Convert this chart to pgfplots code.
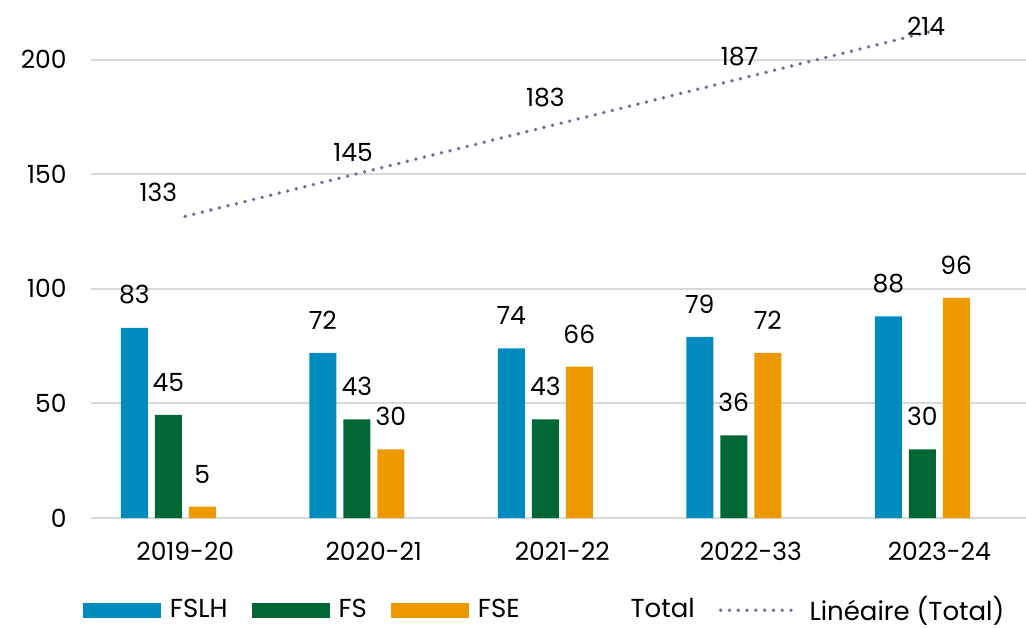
\documentclass[border=0pt]{standalone}
\usepackage{fontspec}
\setmainfont{Poppins}
\usepackage{pgfplots}
\pgfplotsset{compat=1.18}

\definecolor{cFSLH}{HTML}{008BBE}
\definecolor{cFS}{HTML}{006735}
\definecolor{cFSE}{HTML}{EC9A00}
\definecolor{cTrend}{HTML}{8064A2}
\definecolor{gridgray}{HTML}{D9D9D9}

\pgfplotsset{
  patchleg/.style={legend image code/.code={\fill[##1,draw=none] (0pt,-3.75pt) rectangle (39pt,3.75pt);}},
  lineleg/.style={legend image code/.code={\draw[##1] (0pt,0pt) -- (39pt,0pt);}},
  blankleg/.style={legend image code/.code={\path (0pt,-3.75pt) rectangle (39pt,3.75pt);}},
  barlabels/.style={nodes near coords,
    every node near coord/.append style={anchor=south, inner sep=0pt, yshift=11.5pt, xshift=#1, text=black}},
}

\begin{document}
\fontsize{12.5}{15}\selectfont
\begin{tikzpicture}
  \begin{axis}[
      scale only axis,
      width=467.5pt, height=259pt,
      xmin=-0.5, xmax=4.46,
      ymin=0, ymax=226,
      xtick={0,1,2,3,4},
      xticklabels={2019-20,2020-21,2021-22,2022-33,2023-24},
      ytick={0,50,100,150,200},
      ymajorgrids=true,
      grid style={draw=gridgray, line width=1pt},
      axis line style={draw=none},
      major tick length=0pt,
      /pgf/number format/assume math mode=true,
      xticklabel style={anchor=base, inner sep=0pt},
      xticklabel shift=21pt,
      yticklabel style={anchor=east, inner sep=0pt},
      yticklabel shift=12pt,
      clip=false,
      legend columns=5,
      legend style={at={(-0.0086,-0.178)}, anchor=west, draw=none, fill=none,
        inner sep=0pt, outer sep=0pt, nodes={inner sep=0pt},
        font=\fontsize{13}{15}\selectfont,
        /tikz/every odd column/.append style={column sep=4.5pt},
        /tikz/every even column/.append style={column sep=12pt}},
    ]
    \addplot[ybar, bar width=13.5pt, bar shift=-25.5pt, fill=cFSLH, draw=none, patchleg, barlabels=-25.5pt]
      coordinates {(0,83) (1,72) (2,74) (3,79) (4,88)};
    \addlegendentry{FSLH}
    \addplot[ybar, bar width=13.5pt, bar shift=-8.5pt, fill=cFS, draw=none, patchleg, barlabels=-8.5pt]
      coordinates {(0,45) (1,43) (2,43) (3,36) (4,30)};
    \addlegendentry{FS}
    \addplot[ybar, bar width=13.5pt, bar shift=8.5pt, fill=cFSE, draw=none, patchleg, barlabels=8.5pt]
      coordinates {(0,5) (1,30) (2,66) (3,72) (4,96)};
    \addlegendentry{FSE}
    % Total series: not drawn, only its labels and its trend line
    \addplot[draw=none, mark=none, blankleg]
      coordinates {(0,133) (1,145) (2,183) (3,187) (4,214)};
    \addlegendentry{Total}
    \addplot[cTrend, line width=1.9pt, line cap=round, dash pattern=on 0pt off 4.4pt, lineleg]
      coordinates {(0,131.6) (4,213.2)};
    \addlegendentry{Linéaire (Total)}
    \node at (axis cs:-0.143,141.9) {133};
    \node at (axis cs:0.89,159.4) {145};
    \node at (axis cs:1.91,183.4) {183};
    \node at (axis cs:2.94,201.3) {187};
    \node at (axis cs:3.93,214.4) {214};
  \end{axis}
  \pgfresetboundingbox
  \path[use as bounding box] ([xshift=-45.5pt,yshift=-55pt]current axis.south west) rectangle (current axis.north east);
\end{tikzpicture}
\end{document}
